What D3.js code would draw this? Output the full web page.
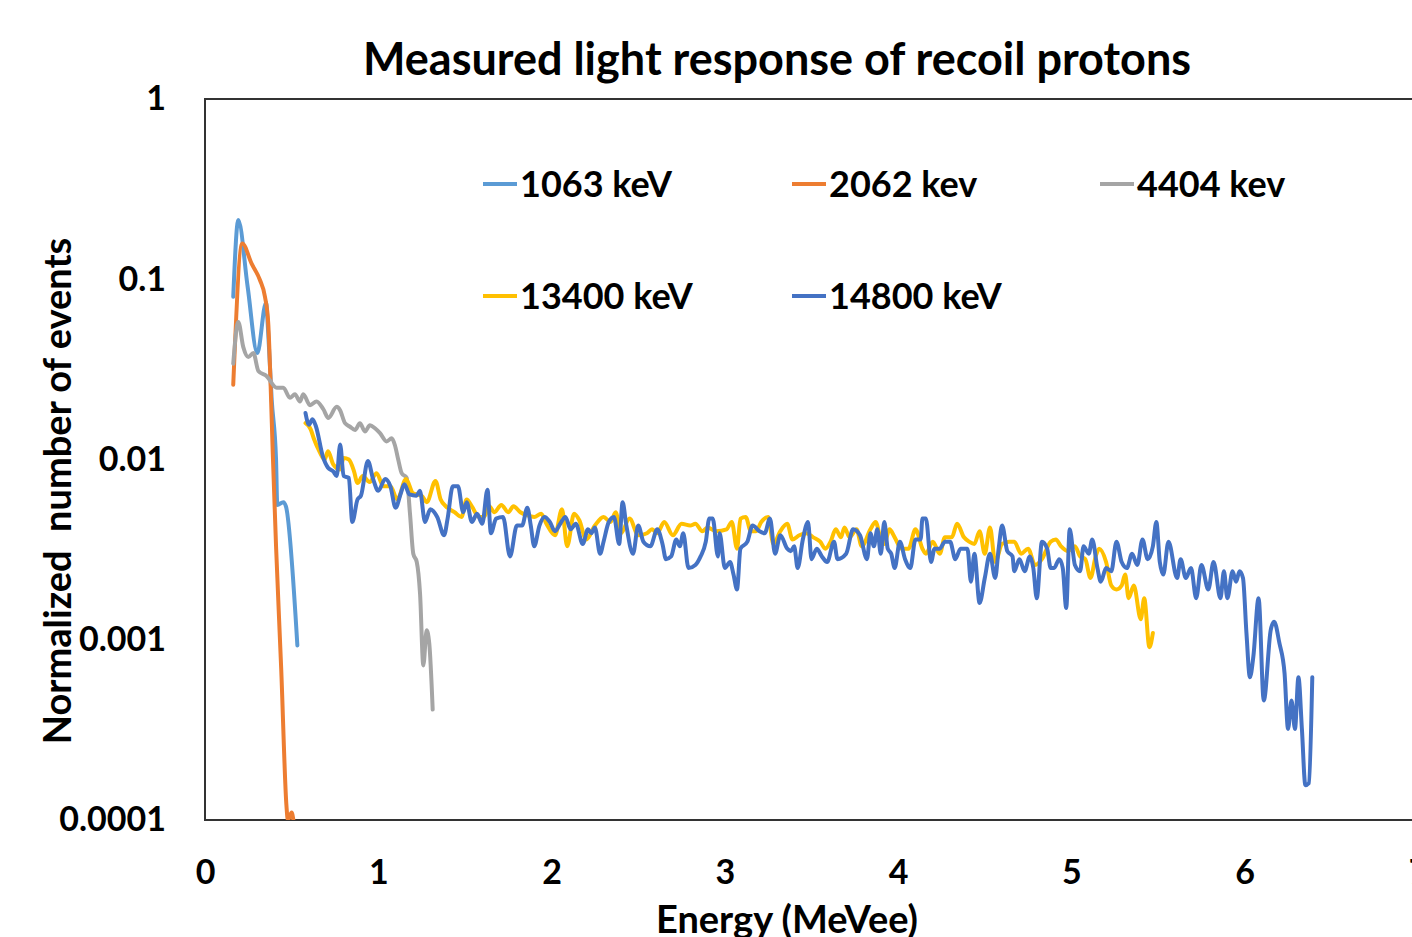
<!DOCTYPE html>
<html lang="en">
<head>
    <meta charset="UTF-8">
    <title>Measured light response of recoil protons</title>
    <script src="https://cdn.jsdelivr.net/npm/d3@7"></script>
</head>
<style>
    body { margin: 0; background: #ffffff; }
    text { font-family: Lato, "Open Sans", sans-serif; font-weight: 700; fill: #000000; }
</style>
<body>
<div id="output"></div>

<script>

// series: [energy (MeVee), normalized number of events]
var s1063 = [
    [0.163, 0.080], [0.192, 0.213], [0.246, 0.091], [0.302, 0.039], [0.352, 0.074],
    [0.365, 0.050], [0.385, 0.0214], [0.410, 0.010], [0.417, 0.0056], [0.452, 0.0058],
    [0.467, 0.0055], [0.533, 0.00093]
];

var s2062 = [
    [0.163, 0.026], [0.215, 0.158], [0.269, 0.122], [0.317, 0.099], [0.346, 0.080],
    [0.365, 0.057], [0.379, 0.0253], [0.391, 0.0109], [0.41, 0.0033], [0.44, 0.00068],
    [0.47, 0.00012], [0.478, 0.0001], [0.50, 0.00011], [0.51, 0.0001]
];

var s4404 = [
    [0.163, 0.034], [0.192, 0.058], [0.221, 0.042], [0.25, 0.037], [0.279, 0.039],
    [0.308, 0.031], [0.356, 0.029], [0.414, 0.025], [0.452, 0.025], [0.49, 0.022],
    [0.519, 0.023], [0.548, 0.021], [0.567, 0.023], [0.606, 0.020], [0.644, 0.021],
    [0.683, 0.019], [0.712, 0.017], [0.76, 0.0196], [0.779, 0.0188], [0.808, 0.0159],
    [0.837, 0.0152], [0.866, 0.0146], [0.894, 0.0159], [0.923, 0.0143], [0.952, 0.0155],
    [0.981, 0.0149], [1.01, 0.0140], [1.048, 0.0126], [1.077, 0.0131], [1.096, 0.0120],
    [1.115, 0.0100], [1.135, 0.0084], [1.164, 0.0079], [1.183, 0.0050], [1.202, 0.0030],
    [1.222, 0.0027], [1.241, 0.0018], [1.26, 0.00072], [1.279, 0.00113], [1.294, 0.00096],
    [1.314, 0.00041]
];

var s13400 = [
    [0.58, 0.0159], [0.61, 0.0147], [0.63, 0.0129], [0.66, 0.0111], [0.69, 0.0100],
    [0.71, 0.0111], [0.74, 0.0094], [0.78, 0.0088], [0.80, 0.0102], [0.83, 0.0100],
    [0.86, 0.0086], [0.88, 0.0074], [0.91, 0.0081], [0.95, 0.0075], [0.99, 0.0084],
    [1.03, 0.0071], [1.07, 0.0071], [1.11, 0.0060], [1.16, 0.0078], [1.20, 0.0065],
    [1.25, 0.0063], [1.28, 0.0058], [1.33, 0.0076], [1.36, 0.0060], [1.39, 0.0055],
    [1.44, 0.0051], [1.48, 0.0048], [1.51, 0.0060], [1.54, 0.0055], [1.58, 0.0048],
    [1.61, 0.0048], [1.64, 0.0055], [1.67, 0.0051], [1.71, 0.0056], [1.75, 0.0051],
    [1.78, 0.0055], [1.82, 0.0051], [1.86, 0.0049], [1.90, 0.0048], [1.94, 0.0050],
    [1.97, 0.0044], [2.02, 0.0038], [2.06, 0.0053], [2.09, 0.0033], [2.13, 0.0050],
    [2.16, 0.0046], [2.20, 0.0036], [2.25, 0.0043], [2.30, 0.0048], [2.34, 0.0045],
    [2.37, 0.0051], [2.40, 0.0039], [2.45, 0.0047], [2.50, 0.0038], [2.55, 0.0039],
    [2.58, 0.0041], [2.61, 0.0039], [2.65, 0.0045], [2.70, 0.0038], [2.75, 0.0044],
    [2.80, 0.0043], [2.83, 0.0044], [2.87, 0.0040], [2.90, 0.0042], [2.95, 0.0040],
    [3.01, 0.0041], [3.04, 0.0045], [3.07, 0.0032], [3.09, 0.0047], [3.12, 0.0048],
    [3.15, 0.0040], [3.18, 0.0040], [3.21, 0.0045], [3.25, 0.0048], [3.28, 0.0034],
    [3.32, 0.0040], [3.36, 0.0044], [3.39, 0.0036], [3.43, 0.0038], [3.47, 0.0039],
    [3.51, 0.0037], [3.55, 0.0035], [3.58, 0.0032], [3.61, 0.0035], [3.64, 0.0041],
    [3.67, 0.0037], [3.69, 0.0042], [3.72, 0.0037], [3.76, 0.0041], [3.79, 0.0033],
    [3.84, 0.0041], [3.87, 0.0045], [3.90, 0.0036], [3.92, 0.0034], [3.95, 0.0041],
    [3.98, 0.0037], [4.02, 0.0032], [4.06, 0.0032], [4.10, 0.0041], [4.14, 0.0032],
    [4.16, 0.0030], [4.20, 0.0035], [4.24, 0.0030], [4.27, 0.0037], [4.31, 0.0037],
    [4.34, 0.0044], [4.38, 0.0037], [4.41, 0.0035], [4.44, 0.0034], [4.47, 0.0040],
    [4.50, 0.0030], [4.53, 0.0042], [4.56, 0.0027], [4.60, 0.0034], [4.64, 0.0035],
    [4.67, 0.0035], [4.71, 0.0030], [4.75, 0.0032], [4.79, 0.0026], [4.83, 0.0028],
    [4.88, 0.0035], [4.91, 0.0036], [4.94, 0.0033], [4.98, 0.0031], [5.02, 0.0033],
    [5.05, 0.0029], [5.08, 0.0028], [5.11, 0.0022], [5.14, 0.0029], [5.16, 0.0032],
    [5.20, 0.0027], [5.23, 0.0020], [5.26, 0.0019], [5.29, 0.0020], [5.31, 0.0023],
    [5.33, 0.0017], [5.36, 0.0020], [5.40, 0.0013], [5.42, 0.0017], [5.45, 0.00091],
    [5.47, 0.00109]
];

var s14800 = [
    [0.58, 0.0181], [0.60, 0.0156], [0.62, 0.0167], [0.64, 0.0153], [0.68, 0.0104],
    [0.71, 0.0090], [0.74, 0.0086], [0.76, 0.0081], [0.78, 0.0121], [0.80, 0.0081],
    [0.83, 0.0079], [0.85, 0.0045], [0.88, 0.0060], [0.90, 0.0063], [0.94, 0.0098],
    [0.97, 0.0078], [1.00, 0.0067], [1.04, 0.0078], [1.07, 0.0071], [1.10, 0.0054],
    [1.13, 0.0065], [1.15, 0.0073], [1.18, 0.0064], [1.22, 0.0063], [1.24, 0.0067],
    [1.27, 0.0045], [1.30, 0.0053], [1.34, 0.0048], [1.38, 0.0038], [1.40, 0.0047],
    [1.43, 0.0071], [1.46, 0.0071], [1.49, 0.0051], [1.51, 0.0058], [1.54, 0.0045],
    [1.57, 0.0050], [1.60, 0.0044], [1.63, 0.0068], [1.65, 0.0039], [1.68, 0.0047],
    [1.72, 0.0048], [1.76, 0.0029], [1.80, 0.0043], [1.83, 0.0043], [1.86, 0.0054],
    [1.88, 0.0043], [1.90, 0.0033], [1.93, 0.0043], [1.96, 0.0048], [1.99, 0.0045],
    [2.02, 0.0040], [2.05, 0.0044], [2.08, 0.0048], [2.11, 0.0041], [2.14, 0.0044],
    [2.18, 0.0034], [2.21, 0.0041], [2.23, 0.0039], [2.25, 0.0042], [2.28, 0.0030],
    [2.30, 0.0035], [2.33, 0.0045], [2.36, 0.0048], [2.39, 0.0034], [2.41, 0.0058],
    [2.43, 0.0044], [2.47, 0.0030], [2.50, 0.0043], [2.53, 0.0035], [2.57, 0.0033],
    [2.61, 0.0041], [2.64, 0.0034], [2.66, 0.0028], [2.69, 0.0029], [2.72, 0.0036],
    [2.74, 0.0033], [2.76, 0.0039], [2.79, 0.0025], [2.83, 0.0026], [2.86, 0.0029],
    [2.89, 0.0035], [2.91, 0.0047], [2.93, 0.0047], [2.96, 0.0029], [2.97, 0.0039],
    [3.00, 0.0025], [3.03, 0.0027], [3.05, 0.0023], [3.07, 0.0019], [3.09, 0.0032],
    [3.13, 0.0035], [3.16, 0.0043], [3.20, 0.0040], [3.23, 0.0039], [3.26, 0.0047],
    [3.29, 0.0030], [3.32, 0.0038], [3.36, 0.0032], [3.38, 0.0031], [3.40, 0.0033],
    [3.42, 0.0025], [3.45, 0.0036], [3.48, 0.0045], [3.50, 0.0028], [3.53, 0.0032],
    [3.56, 0.0029], [3.59, 0.0027], [3.63, 0.0035], [3.65, 0.0028], [3.70, 0.0030],
    [3.74, 0.0041], [3.78, 0.0038], [3.82, 0.0028], [3.84, 0.0039], [3.86, 0.0033],
    [3.88, 0.0041], [3.90, 0.0030], [3.92, 0.0045], [3.94, 0.0032], [3.96, 0.0030],
    [3.98, 0.0025], [4.01, 0.0035], [4.04, 0.0028], [4.07, 0.0025], [4.10, 0.0036],
    [4.13, 0.0036], [4.14, 0.0047], [4.16, 0.0047], [4.19, 0.0027], [4.21, 0.0032],
    [4.24, 0.0032], [4.27, 0.0035], [4.30, 0.0035], [4.33, 0.0028], [4.36, 0.0032],
    [4.40, 0.0032], [4.42, 0.0021], [4.44, 0.0030], [4.47, 0.0016], [4.50, 0.0022],
    [4.53, 0.0030], [4.56, 0.0022], [4.58, 0.0032], [4.60, 0.0043], [4.63, 0.0031],
    [4.66, 0.0029], [4.67, 0.0024], [4.70, 0.0028], [4.73, 0.0024], [4.76, 0.0029],
    [4.78, 0.0025], [4.80, 0.0017], [4.83, 0.0035], [4.86, 0.0032], [4.88, 0.0025],
    [4.90, 0.0025], [4.93, 0.0028], [4.95, 0.0025], [4.97, 0.0015], [4.99, 0.0041],
    [5.02, 0.0026], [5.05, 0.0024], [5.07, 0.0033], [5.10, 0.0030], [5.12, 0.0036],
    [5.15, 0.0025], [5.17, 0.0021], [5.20, 0.0025], [5.23, 0.0024], [5.26, 0.0035],
    [5.29, 0.0027], [5.32, 0.0025], [5.35, 0.0030], [5.38, 0.0026], [5.41, 0.0036],
    [5.44, 0.0028], [5.47, 0.0033], [5.49, 0.0045], [5.51, 0.0027], [5.53, 0.0023],
    [5.56, 0.0035], [5.61, 0.0022], [5.63, 0.0028], [5.66, 0.0022], [5.69, 0.0025],
    [5.72, 0.0017], [5.75, 0.0026], [5.79, 0.0019], [5.82, 0.0027], [5.86, 0.0017],
    [5.88, 0.0024], [5.90, 0.0017], [5.93, 0.0024], [5.95, 0.0021], [5.97, 0.0024],
    [5.99, 0.0022], [6.01, 0.00109], [6.03, 0.00062], [6.05, 0.00081], [6.08, 0.0017],
    [6.11, 0.00046], [6.15, 0.00113], [6.17, 0.00126], [6.20, 0.00096], [6.23, 0.00065],
    [6.25, 0.00032], [6.27, 0.00046], [6.29, 0.00032], [6.31, 0.00062], [6.33, 0.00032],
    [6.35, 0.000156], [6.37, 0.000160], [6.39, 0.00062]
];

var seriesNames = ["1063 keV", "2062 kev", "4404 kev", "13400 keV", "14800 keV"];
var seriesData = [s1063, s2062, s4404, s13400, s14800];
var seriesColors = ["#5B9BD5", "#ED7D31", "#A5A5A5", "#FFC000", "#4472C4"];

var xTicks = [0, 1, 2, 3, 4, 5, 6, 7];
var yTicks = [0.0001, 0.001, 0.01, 0.1, 1];
var yTickLabels = ["0.0001", "0.001", "0.01", "0.1", "1"];

var w = 1412;
var h = 937;

var svg = d3.select("#output")
        .append("svg")
        .attr("width", w)
        .attr("height", h)
        .style("display", "block");

var plotLeft = 205, plotTop = 99, plotBottom = 820, plotRight = 1418;

var xScale = d3.scaleLinear()
        .domain([0, 7])
        .range([plotLeft, plotRight]);

var yScale = d3.scaleLog()
        .domain([0.0001, 1])
        .range([plotBottom, plotTop]);

svg.append("defs").append("clipPath")
        .attr("id", "plotClip")
    .append("rect")
        .attr("x", plotLeft)
        .attr("y", plotTop - 2)
        .attr("width", plotRight - plotLeft)
        .attr("height", plotBottom - plotTop + 2);

// title
svg.append("text")
        .attr("x", 777)
        .attr("y", 75)
        .attr("text-anchor", "middle")
        .style("font-size", "45px")
        .text("Measured light response of recoil protons");

// plot frame
svg.append("rect")
        .attr("x", plotLeft)
        .attr("y", plotTop)
        .attr("width", plotRight - plotLeft)
        .attr("height", plotBottom - plotTop)
        .attr("fill", "none")
        .attr("stroke", "#333333")
        .attr("stroke-width", 2);

// axes (labels only, no tick marks)
var xAxisGen = d3.axisBottom(xScale)
        .tickValues(xTicks)
        .tickSize(0)
        .tickPadding(53)
        .tickFormat(d3.format("d"));

var xAxis = svg.append("g")
        .attr("transform", "translate(0," + plotBottom + ")")
        .call(xAxisGen);
xAxis.select(".domain").remove();
xAxis.selectAll("text")
        .style("font-size", "34px")
        .attr("dy", "0.32em")
        .attr("fill", "#000");

var yAxisGen = d3.axisLeft(yScale)
        .tickValues(yTicks)
        .tickSize(0)
        .tickPadding(39)
        .tickFormat(function(d, i){ return yTickLabels[i]; });

var yAxis = svg.append("g")
        .attr("transform", "translate(" + plotLeft + ",0)")
        .call(yAxisGen);
yAxis.select(".domain").remove();
yAxis.selectAll("text")
        .style("font-size", "34px")
        .attr("fill", "#000");

// axis titles
svg.append("text")
        .attr("x", 787)
        .attr("y", 933)
        .attr("text-anchor", "middle")
        .style("font-size", "38px")
        .text("Energy (MeVee)");

svg.append("text")
        .attr("transform", "translate(71,491) rotate(-90)")
        .attr("text-anchor", "middle")
        .attr("xml:space", "preserve")
        .style("font-size", "38px")
        .style("white-space", "pre")
        .text("Normalized  number of events");

// lines
var lineGen = d3.line()
        .x(function(d){ return xScale(d[0]); })
        .y(function(d){ return yScale(d[1]); })
        .curve(d3.curveMonotoneX);

var chartLayer = svg.append("g").attr("clip-path", "url(#plotClip)");

chartLayer.selectAll("path")
        .data(seriesData)
        .enter()
        .append("path")
        .attr("d", lineGen)
        .attr("fill", "none")
        .attr("stroke", function(d, i){ return seriesColors[i]; })
        .attr("stroke-width", 4)
        .attr("stroke-linejoin", "round")
        .attr("stroke-linecap", "round");

// legend, 3 per row
var legendX = [483, 792, 1100];
var legendY = [184, 296];

var legend = svg.append("g");
var item = legend.selectAll("g")
        .data(seriesNames)
        .enter()
        .append("g")
        .attr("transform", function(d, i){
            return "translate(" + legendX[i % 3] + "," + legendY[Math.floor(i / 3)] + ")";
        });

item.append("line")
        .attr("x1", 0)
        .attr("x2", 34)
        .attr("y1", 0)
        .attr("y2", 0)
        .attr("stroke", function(d, i){ return seriesColors[i]; })
        .attr("stroke-width", 4);

item.append("text")
        .attr("x", 37)
        .attr("dy", "0.36em")
        .style("font-size", "36px")
        .text(function(d){ return d; });

</script>

</body>
</html>
